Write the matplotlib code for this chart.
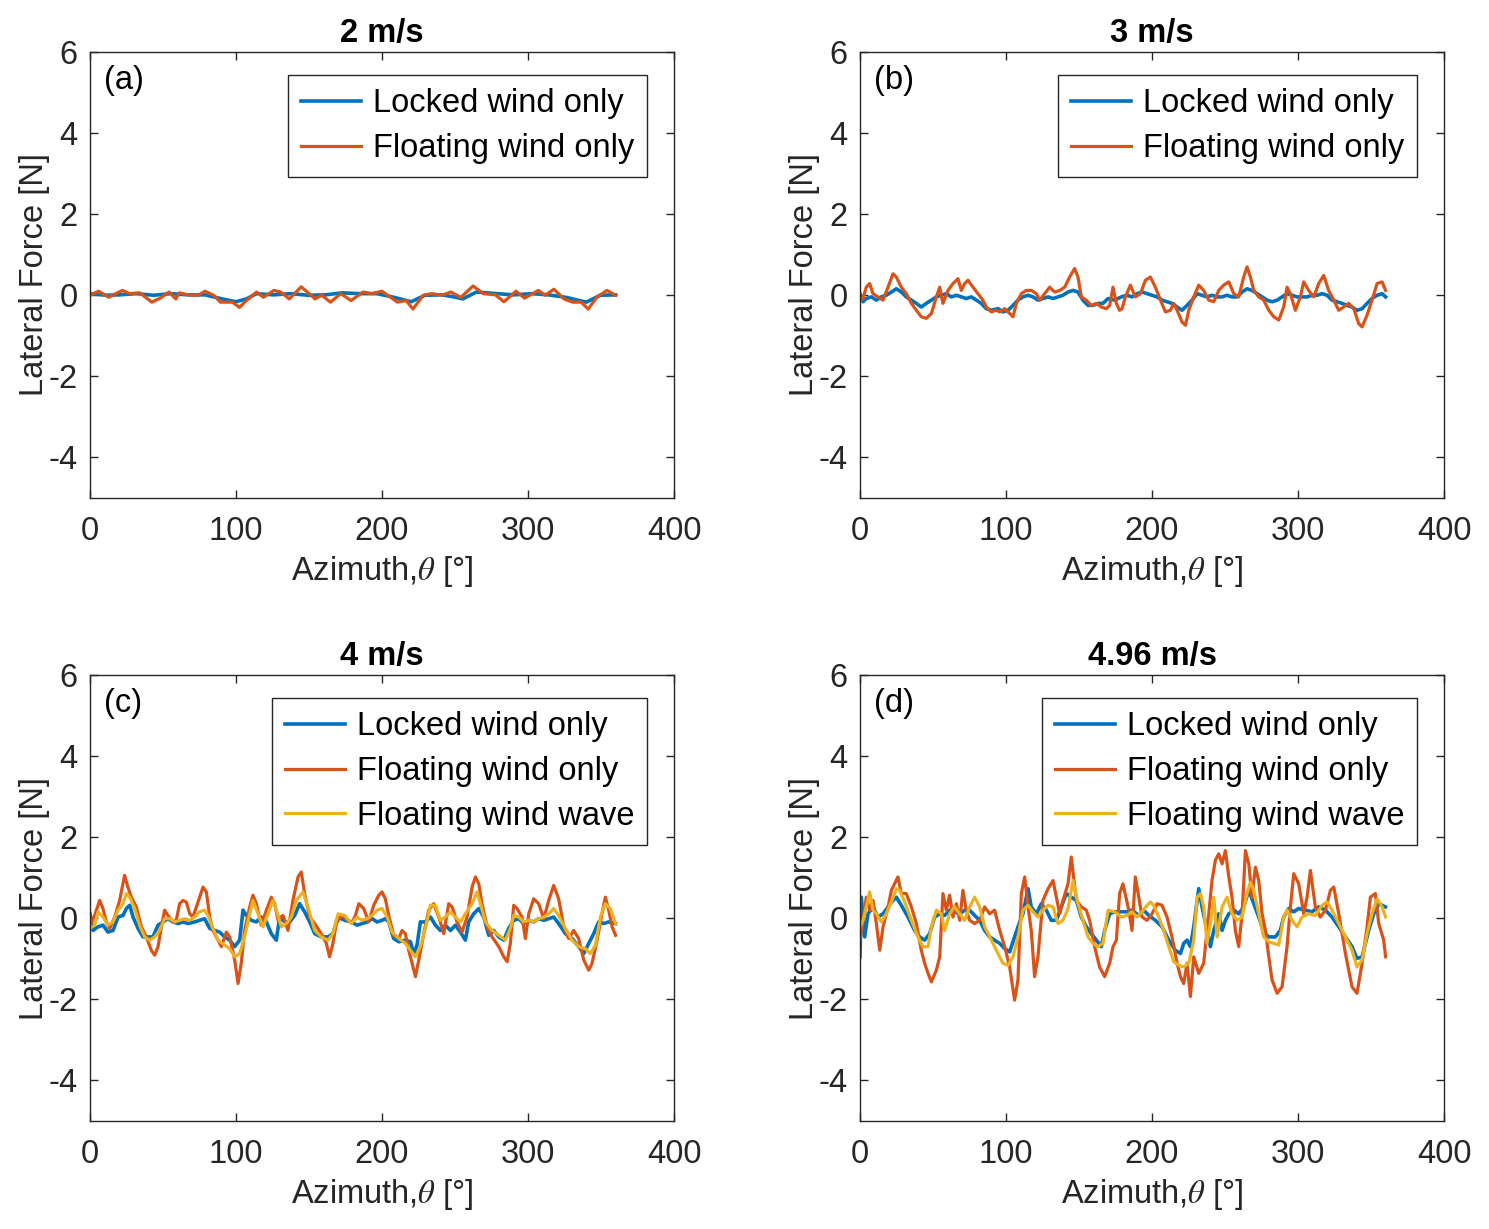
import matplotlib
matplotlib.use("Agg")
import matplotlib.pyplot as plt

plt.rcParams['font.family'] = ['Liberation Sans', 'DejaVu Sans']
plt.rcParams['mathtext.fontset'] = 'stix'
plt.rcParams['axes.unicode_minus'] = False

# ---------------- data (azimuth deg, lateral force N) ----------------
TITLES = ['2 m/s', '3 m/s', '4 m/s', '4.96 m/s']
PANEL_TAGS = ['(a)', '(b)', '(c)', '(d)']
SERIES_NAMES = ['Locked wind only', 'Floating wind only', 'Floating wind wave']
X_TICKS = [0, 100, 200, 300, 400]
Y_TICKS = [-4, -2, 0, 2, 4, 6]

A_LOCKED = [(0, 0.04), (10.6, 0.00), (20.0, 0.01), (31.8, 0.04), (43.5, 0.00), (55.3, 0.04), (67.1, 0.01),
            (78.8, 0.01), (90.6, -0.09), (100.0, -0.16), (107.1, -0.09), (114.1, 0.04), (125.9, 0.01),
            (137.6, 0.04), (149.4, 0.00), (161.2, 0.01), (172.9, 0.06), (184.7, 0.04), (196.5, 0.04),
            (208.2, -0.05), (220.0, -0.16), (229.4, 0.00), (241.2, 0.01), (250.6, -0.05), (255.3, -0.09),
            (264.7, 0.08), (278.8, 0.04), (290.6, 0.01), (302.4, 0.04), (314.1, 0.01), (325.9, -0.05),
            (340.0, -0.17), (349.4, 0.00), (360, 0.01)]
A_FLOAT = [(0, 0.00), (5.9, 0.10), (12.9, -0.05), (17.6, 0.04), (22.4, 0.12), (27.1, 0.04), (34.1, 0.06),
           (42.4, -0.17), (48.2, -0.07), (54.1, 0.08), (58.8, -0.09), (61.2, 0.06), (67.1, 0.01), (74.1, 0.00),
           (78.8, 0.10), (84.7, 0.00), (89.4, -0.17), (97.6, -0.17), (102.4, -0.30), (107.1, -0.13),
           (114.1, 0.08), (118.8, -0.05), (125.9, 0.12), (130.6, 0.08), (136.5, -0.09), (144.7, 0.21),
           (154.1, -0.09), (158.8, 0.00), (164.7, -0.17), (171.8, 0.04), (178.8, -0.13), (187.1, 0.08),
           (192.9, 0.04), (200.0, 0.10), (205.9, -0.05), (210.6, -0.17), (216.5, -0.13), (221.2, -0.34),
           (228.2, 0.00), (234.1, 0.04), (241.2, 0.00), (247.1, 0.08), (254.1, -0.05), (262.4, 0.23),
           (269.4, 0.04), (277.7, 0.01), (283.5, -0.16), (291.8, 0.10), (297.7, -0.07), (307.1, 0.12),
           (311.8, 0.00), (317.7, 0.15), (324.7, -0.09), (330.6, -0.17), (336.5, -0.17), (341.2, -0.34),
           (347.1, -0.05), (354.1, 0.12), (360, 0.00)]

B_LOCKED = [(0.0, 0.04), (2.1, -0.16), (4.3, -0.08), (7.8, -0.04), (11.2, -0.12), (14.6, -0.04), (18.0, 0.00),
            (21.5, 0.08), (24.9, 0.16), (28.3, 0.08), (31.7, -0.04), (35.2, -0.12), (38.6, -0.20), (42.0, -0.29),
            (45.4, -0.20), (48.9, -0.12), (52.3, -0.04), (55.7, 0.00), (59.1, 0.04), (62.6, -0.04), (66.0, 0.00),
            (69.4, -0.04), (72.8, -0.08), (76.3, -0.04), (79.7, -0.12), (83.1, -0.20), (86.5, -0.33), (90.0, -0.37),
            (94.5, -0.33), (97.9, -0.41), (101.4, -0.37), (104.8, -0.25), (108.2, -0.12), (111.6, -0.04),
            (115.1, 0.00), (118.5, -0.04), (121.9, -0.12), (125.3, -0.08), (128.8, -0.04), (132.2, -0.08),
            (135.6, -0.04), (139.0, 0.00), (142.5, 0.08), (145.9, 0.12), (149.3, 0.08), (152.7, -0.12),
            (156.2, -0.25), (159.6, -0.25), (163.0, -0.20), (166.4, -0.20), (169.9, -0.08), (174.4, -0.12),
            (179.0, -0.04), (182.9, 0.00), (186.3, -0.04), (189.8, 0.04), (193.2, 0.08), (196.6, 0.04),
            (200.0, 0.00), (203.5, -0.04), (206.9, -0.12), (210.3, -0.16), (213.7, -0.20), (217.2, -0.29),
            (220.6, -0.37), (224.0, -0.25), (227.4, -0.12), (230.9, 0.04), (234.3, 0.00), (237.7, -0.04),
            (241.1, 0.00), (244.6, -0.04), (248.0, -0.04), (251.4, 0.00), (254.8, -0.04), (258.3, -0.04),
            (261.7, 0.08), (265.1, 0.16), (268.5, 0.12), (272.0, 0.04), (275.4, -0.04), (278.8, -0.12),
            (282.2, -0.16), (285.7, -0.12), (289.1, -0.04), (292.5, 0.04), (295.9, 0.00), (299.4, -0.04),
            (302.8, -0.04), (306.2, -0.04), (309.6, 0.00), (313.1, 0.00), (316.5, 0.04), (319.9, 0.00),
            (323.3, -0.12), (326.8, -0.16), (330.2, -0.20), (333.6, -0.25), (337.0, -0.29), (340.4, -0.37),
            (343.9, -0.33), (347.3, -0.20), (350.7, -0.08), (354.2, 0.00), (357.6, 0.04), (360, -0.04)]
B_FLOAT = [(0.0, -0.12), (2.1, -0.08), (4.3, 0.20), (6.6, 0.29), (8.9, 0.04), (12.3, -0.04), (15.8, -0.12),
           (19.2, 0.20), (22.6, 0.53), (24.9, 0.45), (28.3, 0.20), (31.7, 0.04), (35.2, -0.20), (38.6, -0.37),
           (42.0, -0.53), (45.4, -0.57), (48.9, -0.45), (52.3, -0.04), (54.6, 0.20), (56.8, -0.20), (60.3, 0.12),
           (63.7, 0.29), (67.1, 0.41), (69.4, 0.12), (71.7, 0.29), (74.0, 0.37), (77.4, 0.20), (80.8, 0.04),
           (84.2, -0.12), (86.5, -0.29), (90.0, -0.41), (93.4, -0.37), (95.7, -0.41), (99.1, -0.33),
           (102.5, -0.45), (104.8, -0.53), (107.1, -0.20), (110.5, 0.04), (113.9, 0.12), (117.3, 0.12),
           (120.8, 0.04), (123.1, -0.12), (126.5, 0.04), (129.9, 0.20), (133.3, 0.08), (136.8, 0.12),
           (140.2, 0.20), (143.6, 0.45), (147.0, 0.66), (149.3, 0.45), (151.6, -0.04), (155.0, -0.12),
           (158.4, -0.25), (161.9, -0.20), (165.3, -0.29), (168.7, -0.33), (171.0, -0.25), (173.3, 0.20),
           (175.6, -0.20), (177.8, -0.37), (179.5, -0.33), (181.8, -0.04), (185.2, 0.25), (188.6, -0.04),
           (192.1, 0.04), (195.5, 0.37), (198.9, 0.45), (202.3, 0.20), (205.8, -0.12), (209.2, -0.41),
           (212.6, -0.37), (214.9, -0.20), (217.2, -0.37), (220.6, -0.66), (222.9, -0.74), (225.2, -0.37),
           (228.6, -0.04), (232.0, 0.25), (235.4, 0.12), (238.9, -0.12), (242.3, -0.16), (245.7, 0.12),
           (249.1, 0.25), (252.6, 0.33), (256.0, 0.04), (259.4, -0.04), (262.8, 0.45), (265.1, 0.70),
           (267.4, 0.45), (269.7, 0.12), (273.1, -0.04), (276.5, -0.12), (280.0, -0.37), (283.4, -0.53),
           (286.8, -0.61), (290.2, -0.29), (292.5, 0.20), (294.8, 0.04), (298.2, -0.37), (301.6, -0.04),
           (303.9, 0.33), (307.3, 0.12), (310.8, -0.04), (314.2, 0.29), (317.6, 0.49), (321.0, 0.12),
           (324.5, -0.12), (327.9, -0.37), (331.3, -0.29), (334.7, -0.20), (338.2, -0.33), (341.6, -0.70),
           (343.9, -0.78), (347.3, -0.49), (350.7, -0.12), (354.2, 0.29), (357.6, 0.33), (360, 0.12)]

C_LOCKED = [(0.0, 0.11), (2.1, -0.30), (5.5, -0.21), (8.9, -0.17), (12.3, -0.34), (15.8, -0.30), (19.2, 0.03),
            (22.6, 0.07), (24.9, 0.24), (27.2, 0.32), (29.5, 0.03), (32.9, -0.25), (36.3, -0.46), (39.7, -0.46),
            (43.1, -0.46), (46.6, -0.17), (50.0, -0.09), (53.4, -0.01), (56.8, -0.09), (60.3, -0.13),
            (63.7, -0.09), (67.1, -0.13), (71.7, -0.09), (75.1, -0.05), (78.5, -0.01), (82.0, -0.25),
            (85.4, -0.30), (88.8, -0.34), (92.2, -0.46), (95.7, -0.54), (99.1, -0.70), (102.5, -0.54),
            (104.8, 0.20), (107.1, 0.07), (110.5, -0.05), (113.9, -0.09), (117.3, 0.03), (120.8, -0.09),
            (124.2, -0.38), (127.6, -0.54), (129.9, 0.03), (133.3, -0.09), (136.8, -0.09), (140.2, 0.07),
            (143.6, 0.36), (147.0, 0.16), (150.5, -0.09), (153.9, -0.38), (158.4, -0.46), (163.0, -0.46),
            (166.4, -0.38), (169.9, 0.03), (174.4, -0.05), (179.0, -0.09), (182.9, -0.17), (186.3, -0.13),
            (189.8, -0.09), (193.2, -0.01), (196.6, -0.09), (200.0, -0.05), (202.3, -0.01), (204.6, -0.09),
            (208.0, -0.50), (211.5, -0.58), (216.0, -0.54), (219.5, -0.58), (221.7, -0.87), (224.0, -0.66),
            (226.3, -0.09), (229.7, -0.09), (233.2, 0.03), (236.6, -0.17), (240.0, -0.30), (243.4, -0.17),
            (246.9, -0.30), (250.3, -0.17), (253.7, -0.34), (257.1, -0.54), (259.4, -0.09), (262.8, 0.11),
            (266.3, 0.24), (269.7, 0.03), (273.1, -0.42), (276.5, -0.30), (280.0, -0.46), (283.4, -0.54),
            (286.8, -0.25), (290.2, -0.05), (293.7, -0.01), (297.1, -0.13), (300.5, -0.05), (303.9, -0.09),
            (307.3, -0.01), (310.8, -0.05), (314.2, -0.01), (317.6, 0.03), (321.0, -0.13), (325.6, -0.38),
            (330.2, -0.50), (334.7, -0.70), (338.2, -0.87), (341.6, -0.62), (345.0, -0.38), (348.4, -0.09),
            (351.9, -0.13), (355.3, -0.09), (359.9, -0.13)]
C_FLOAT = [(0.0, -0.17), (3.2, 0.07), (6.6, 0.44), (8.9, 0.24), (11.2, -0.09), (13.5, -0.25), (16.9, 0.03),
           (20.3, 0.44), (23.7, 1.06), (25.6, 0.81), (28.3, 0.52), (31.7, 0.28), (35.2, -0.21), (38.6, -0.46),
           (42.0, -0.79), (44.3, -0.91), (46.6, -0.70), (48.9, -0.21), (51.1, 0.20), (53.4, 0.07), (56.8, -0.09),
           (59.1, -0.05), (61.4, 0.36), (63.7, 0.44), (66.0, 0.40), (68.3, 0.11), (70.5, 0.03), (74.0, 0.40),
           (77.4, 0.77), (79.7, 0.65), (82.0, 0.03), (84.2, -0.30), (86.5, -0.46), (90.0, -0.70), (93.4, -0.34),
           (95.7, -0.46), (99.1, -1.03), (101.4, -1.61), (103.6, -1.11), (105.9, -0.30), (109.4, 0.28),
           (111.6, 0.57), (113.9, 0.36), (117.3, -0.17), (120.8, 0.20), (124.2, 0.52), (126.5, 0.36),
           (128.8, -0.05), (132.2, 0.07), (135.6, -0.30), (139.0, 0.44), (142.5, 1.02), (144.7, 1.14),
           (147.0, 0.61), (150.5, 0.03), (153.9, -0.13), (158.4, -0.38), (161.9, -0.62), (164.1, -0.95),
           (166.4, -0.62), (168.7, -0.13), (172.1, 0.07), (176.7, -0.05), (179.5, -0.10), (181.8, 0.07),
           (184.1, 0.36), (187.5, 0.24), (190.9, -0.09), (194.3, 0.32), (197.8, 0.57), (200.0, 0.65),
           (202.3, 0.48), (204.6, 0.07), (208.0, -0.42), (211.5, -0.50), (213.7, -0.30), (216.0, -0.38),
           (218.3, -0.79), (220.6, -1.11), (222.9, -1.44), (225.2, -1.03), (228.6, -0.38), (232.0, 0.20),
           (235.4, 0.36), (238.9, 0.03), (242.3, -0.38), (245.7, 0.36), (248.0, 0.28), (251.4, -0.09),
           (254.8, -0.34), (258.3, 0.03), (261.7, 0.77), (264.0, 1.02), (266.3, 0.85), (268.5, 0.36),
           (272.0, -0.21), (275.4, -0.46), (280.0, -0.70), (283.4, -0.95), (285.7, -1.07), (287.9, -0.62),
           (290.2, 0.32), (292.5, 0.24), (295.9, 0.03), (298.2, -0.50), (300.5, 0.11), (303.9, 0.48),
           (307.3, 0.36), (310.8, -0.01), (314.2, 0.44), (317.6, 0.81), (321.0, 0.48), (324.5, -0.21),
           (327.9, -0.50), (331.3, -0.30), (334.7, -0.50), (338.2, -1.03), (341.6, -1.28), (343.9, -1.11),
           (347.3, -0.54), (350.7, 0.11), (353.0, 0.52), (355.3, 0.20), (357.6, -0.21), (360, -0.42)]
C_WAVE = [(0.0, -0.25), (3.2, -0.17), (5.5, 0.16), (8.9, 0.03), (12.3, -0.17), (15.8, -0.09), (19.2, 0.20),
          (22.6, 0.36), (24.9, 0.61), (27.2, 0.52), (30.6, 0.24), (34.0, -0.17), (37.4, -0.46), (40.9, -0.54),
          (44.3, -0.46), (47.7, -0.30), (51.1, -0.01), (54.6, -0.01), (58.0, -0.09), (61.4, -0.05), (64.8, -0.01),
          (68.3, -0.05), (71.7, 0.03), (75.1, 0.16), (78.5, 0.20), (80.8, 0.07), (84.2, -0.25), (87.7, -0.54),
          (92.2, -0.66), (95.7, -0.75), (99.1, -0.95), (102.5, -0.87), (105.9, -0.46), (109.4, 0.11),
          (111.6, 0.44), (115.1, 0.11), (118.5, -0.21), (121.9, 0.11), (125.3, 0.44), (128.8, 0.07),
          (131.0, -0.21), (134.5, -0.13), (137.9, 0.03), (141.3, 0.44), (145.9, 0.65), (149.3, 0.28),
          (153.9, -0.30), (158.4, -0.46), (163.0, -0.54), (166.4, -0.38), (169.9, 0.11), (174.4, 0.07),
          (179.0, -0.13), (182.9, 0.03), (186.3, -0.05), (189.8, -0.01), (193.2, 0.07), (196.6, 0.20),
          (200.0, 0.24), (203.5, 0.03), (206.9, -0.34), (211.5, -0.50), (216.0, -0.62), (219.5, -0.79),
          (222.9, -0.95), (226.3, -0.70), (229.7, -0.25), (233.2, 0.32), (236.6, 0.32), (240.0, -0.05),
          (243.4, 0.03), (246.9, 0.16), (250.3, 0.03), (253.7, -0.09), (257.1, 0.11), (261.7, 0.36),
          (265.1, 0.65), (267.4, 0.36), (270.8, -0.09), (275.4, -0.30), (280.0, -0.42), (284.5, -0.54),
          (287.9, -0.25), (290.2, 0.07), (293.7, 0.03), (297.1, -0.09), (300.5, -0.05), (303.9, -0.09),
          (307.3, -0.01), (310.8, 0.03), (314.2, 0.11), (317.6, 0.24), (321.0, 0.07), (325.6, -0.25),
          (330.2, -0.54), (334.7, -0.70), (339.3, -0.75), (342.7, -0.87), (346.2, -0.66), (349.6, 0.03),
          (353.0, 0.36), (356.4, 0.24), (359.9, -0.13)]

D_LOCKED = [(0.0, -0.95), (0.9, 0.52), (3.2, -0.46), (5.5, 0.11), (8.9, 0.28), (12.3, 0.03), (15.8, 0.11),
            (19.2, 0.28), (22.6, 0.44), (24.9, 0.52), (28.3, 0.32), (32.9, 0.03), (37.4, -0.30), (40.9, -0.46),
            (44.3, -0.54), (47.7, -0.38), (51.1, 0.03), (54.6, 0.11), (58.0, 0.07), (61.4, 0.20), (64.8, 0.16),
            (68.3, 0.11), (71.7, 0.20), (75.1, 0.20), (78.5, 0.07), (82.0, -0.05), (85.4, -0.30), (88.8, -0.46),
            (92.2, -0.54), (95.7, -0.62), (99.1, -0.75), (102.5, -0.83), (105.9, -0.46), (108.2, -0.21),
            (111.6, 0.11), (115.1, 0.73), (117.3, 0.28), (120.8, 0.11), (124.2, 0.36), (127.6, 0.20),
            (131.0, -0.05), (134.5, -0.05), (137.9, 0.28), (141.3, 0.61), (144.7, 0.52), (148.2, 0.44),
            (151.6, 0.03), (155.0, -0.21), (158.4, -0.38), (161.9, -0.54), (165.3, -0.70), (167.6, -0.30),
            (171.0, 0.11), (174.4, 0.16), (179.0, 0.16), (182.9, 0.16), (186.3, 0.20), (190.9, 0.07),
            (194.3, 0.20), (197.8, 0.07), (202.3, -0.05), (206.9, -0.21), (211.5, -0.54), (216.0, -0.79),
            (219.5, -0.87), (221.7, -0.62), (224.0, -0.54), (226.3, -0.70), (228.6, -0.21), (232.0, 0.73),
            (234.3, 0.28), (237.7, -0.30), (240.0, -0.70), (242.3, -0.30), (245.7, 0.11), (248.0, -0.30),
            (250.3, -0.05), (252.6, 0.11), (256.0, 0.20), (259.4, 0.11), (262.8, 0.28), (266.3, 0.69),
            (269.7, 0.36), (273.1, 0.03), (276.5, -0.34), (280.0, -0.46), (284.5, -0.46), (287.9, -0.30),
            (290.2, 0.03), (293.7, 0.24), (297.1, 0.16), (300.5, 0.24), (305.1, 0.20), (309.6, 0.16),
            (314.2, 0.28), (318.8, 0.20), (323.3, 0.03), (327.9, -0.21), (332.5, -0.46), (337.0, -0.70),
            (340.4, -0.99), (343.9, -0.95), (348.4, -0.30), (351.9, 0.11), (355.3, 0.36), (359.9, 0.28)]
D_FLOAT = [(0.0, -0.54), (2.1, -0.05), (4.3, 0.52), (6.6, 0.20), (8.9, 0.44), (11.2, -0.13), (13.5, -0.79),
           (15.8, -0.21), (19.2, 0.28), (21.5, 0.69), (23.7, 0.85), (26.0, 1.02), (28.3, 0.61), (31.7, 0.61),
           (35.2, 0.28), (38.6, -0.13), (42.0, -0.79), (44.3, -1.11), (46.6, -1.36), (48.9, -1.57),
           (52.3, -1.28), (54.6, -0.95), (56.8, 0.61), (59.1, 0.20), (61.4, 0.57), (63.7, 0.03), (66.0, 0.36),
           (68.3, -0.05), (70.5, 0.69), (72.8, 0.20), (75.1, -0.05), (78.5, -0.13), (82.0, -0.05), (85.4, 0.28),
           (88.8, 0.11), (92.2, 0.20), (95.7, -0.30), (99.1, -0.70), (102.5, -1.20), (105.9, -2.02),
           (108.2, -1.52), (110.5, 0.61), (112.8, 1.02), (115.1, 0.28), (117.3, -0.30), (119.6, -1.44),
           (121.9, -0.95), (125.3, 0.44), (128.8, 0.73), (132.2, 0.93), (134.5, 0.52), (136.8, 0.11),
           (139.0, 0.44), (142.5, 0.85), (144.7, 1.51), (148.2, 0.44), (151.6, 0.28), (155.0, 0.20),
           (157.3, -0.05), (160.7, -0.70), (164.1, -1.20), (167.6, -1.44), (171.0, -1.11), (173.3, -0.70),
           (175.6, -0.54), (177.8, 0.61), (180.1, 0.85), (184.1, 0.20), (186.3, -0.30), (188.6, 1.02),
           (190.9, 0.52), (193.2, 0.03), (196.6, -0.05), (200.0, 0.11), (203.5, 0.36), (206.9, 0.32),
           (210.3, 0.03), (213.7, -0.46), (217.2, -1.11), (219.5, -1.44), (221.7, -1.61), (224.0, -1.11),
           (226.3, -1.93), (228.6, -0.95), (232.0, -1.36), (235.4, -1.11), (238.9, 0.11), (241.1, 0.93),
           (243.4, 1.43), (245.7, 1.59), (248.0, 1.34), (250.3, 1.67), (252.6, 1.02), (254.8, 0.52),
           (257.1, -0.30), (259.4, -0.70), (261.7, 0.11), (264.0, 1.67), (266.3, 1.34), (268.5, 0.52),
           (270.8, 1.26), (273.1, 0.93), (275.4, 0.11), (277.7, -0.30), (280.0, -0.95), (282.2, -1.52),
           (285.7, -1.85), (289.1, -1.69), (292.5, -0.70), (294.8, 0.28), (297.1, 1.10), (300.5, 0.85),
           (303.9, 0.11), (306.2, 0.52), (308.5, 1.18), (311.9, 0.28), (315.3, 0.03), (318.8, 0.20),
           (322.2, 0.69), (324.5, 0.77), (327.9, 0.11), (332.5, -0.87), (337.0, -1.69), (340.4, -1.85),
           (343.9, -1.11), (347.3, -0.21), (349.6, 0.52), (353.0, 0.61), (355.3, -0.13), (358.7, -0.54),
           (360, -0.95)]
D_WAVE = [(0.0, -0.21), (2.1, -0.05), (4.3, 0.28), (6.6, 0.65), (8.9, 0.20), (11.2, 0.11), (14.6, -0.09),
          (18.0, 0.11), (21.5, 0.40), (24.9, 0.73), (27.2, 0.69), (30.6, 0.40), (35.2, -0.05), (39.7, -0.46),
          (43.1, -0.70), (46.6, -0.70), (48.9, -0.21), (52.3, 0.20), (55.7, 0.11), (58.0, -0.30), (61.4, 0.11),
          (64.8, 0.28), (68.3, 0.11), (71.7, -0.05), (75.1, 0.28), (78.5, 0.52), (82.0, 0.28), (85.4, -0.21),
          (90.0, -0.54), (94.5, -0.87), (97.9, -1.11), (101.4, -1.16), (104.8, -0.95), (108.2, -0.46),
          (111.6, 0.20), (115.1, 0.32), (118.5, 0.16), (121.9, 0.03), (125.3, 0.20), (128.8, 0.32),
          (132.2, 0.28), (135.6, -0.13), (139.0, -0.05), (142.5, 0.24), (145.9, 0.93), (149.3, 0.36),
          (152.7, -0.05), (156.2, -0.46), (159.6, -0.62), (163.0, -0.70), (166.4, -0.62), (169.9, 0.20),
          (174.4, 0.16), (179.0, 0.03), (182.9, 0.07), (186.3, 0.16), (189.8, 0.03), (193.2, 0.16),
          (196.6, 0.32), (198.9, 0.40), (201.2, 0.32), (204.6, 0.03), (208.0, -0.30), (211.5, -0.70),
          (214.9, -1.07), (218.3, -1.16), (221.7, -1.20), (225.2, -1.11), (228.6, -0.54), (230.9, 0.52),
          (233.2, 0.61), (235.4, 0.28), (237.7, -0.62), (240.0, -0.13), (242.3, 0.52), (244.6, -0.46),
          (248.0, 0.28), (251.4, 0.52), (254.8, 0.11), (258.3, -0.05), (261.7, 0.03), (265.1, 0.61),
          (267.4, 0.89), (269.7, 0.69), (273.1, 0.11), (276.5, -0.46), (280.0, -0.58), (283.4, -0.62),
          (286.8, -0.66), (290.2, 0.03), (292.5, 0.20), (295.9, -0.05), (299.4, -0.21), (302.8, 0.03),
          (307.3, 0.11), (311.9, 0.07), (316.5, 0.32), (319.9, 0.40), (323.3, 0.20), (327.9, -0.13),
          (332.5, -0.46), (337.0, -0.79), (340.4, -1.20), (343.9, -1.03), (347.3, -0.38), (350.7, 0.11),
          (354.2, 0.48), (357.6, 0.28), (360, 0.03)]

PANELS = [
    [A_LOCKED, A_FLOAT],
    [B_LOCKED, B_FLOAT],
    [C_LOCKED, C_FLOAT, C_WAVE],
    [D_LOCKED, D_FLOAT, D_WAVE],
]
COLORS = ['#0072BD', '#D95319', '#EDB120']
LWS = [2.6, 2.3, 2.3]
AX_COLOR = '#262626'
FS = 23.5

fig = plt.figure(figsize=(14.89, 12.29), dpi=100)
W, H = 1489, 1229
boxes = [(90, 52), (860, 52), (90, 675), (860, 675)]
aw, ah = 584, 446

for i, series in enumerate(PANELS):
    l, t = boxes[i]
    ax = fig.add_axes([l / W, 1 - (t + ah) / H, aw / W, ah / H])
    for j, pts in enumerate(series):
        xs = [p[0] for p in pts]
        ys = [p[1] for p in pts]
        ax.plot(xs, ys, color=COLORS[j], lw=LWS[j], label=SERIES_NAMES[j])
    ax.set_xlim(0, 400)
    ax.set_ylim(-5, 6)
    ax.set_xticks(X_TICKS)
    ax.set_yticks(Y_TICKS)
    ax.tick_params(direction='in', length=6, width=1.0, top=True, right=True,
                   labelsize=FS, colors=AX_COLOR)
    ax.tick_params(axis='x', pad=13)
    ax.tick_params(axis='y', pad=9)
    for s in ax.spines.values():
        s.set_color(AX_COLOR)
        s.set_linewidth(1.0)
    ax.set_xlabel(r'Azimuth,$\theta$ [°]', fontsize=FS, color=AX_COLOR, labelpad=5)
    ax.set_ylabel('Lateral Force [N]', fontsize=FS, color=AX_COLOR, labelpad=-1)
    ax.set_title(TITLES[i], fontsize=FS, fontweight='bold', pad=7)
    ax.text(0.024, 0.935, PANEL_TAGS[i], transform=ax.transAxes, fontsize=FS,
            va='center', ha='left', color='black')
    leg = ax.legend(loc='upper right', bbox_to_anchor=(0.954, 0.948), borderaxespad=0,
                    fontsize=FS, frameon=True, fancybox=False, framealpha=1,
                    edgecolor=AX_COLOR, handlelength=1.85, handletextpad=0.35,
                    labelspacing=0.42, borderpad=0.4)
    leg.get_frame().set_linewidth(1.0)

fig.savefig('out.png', dpi=100)
